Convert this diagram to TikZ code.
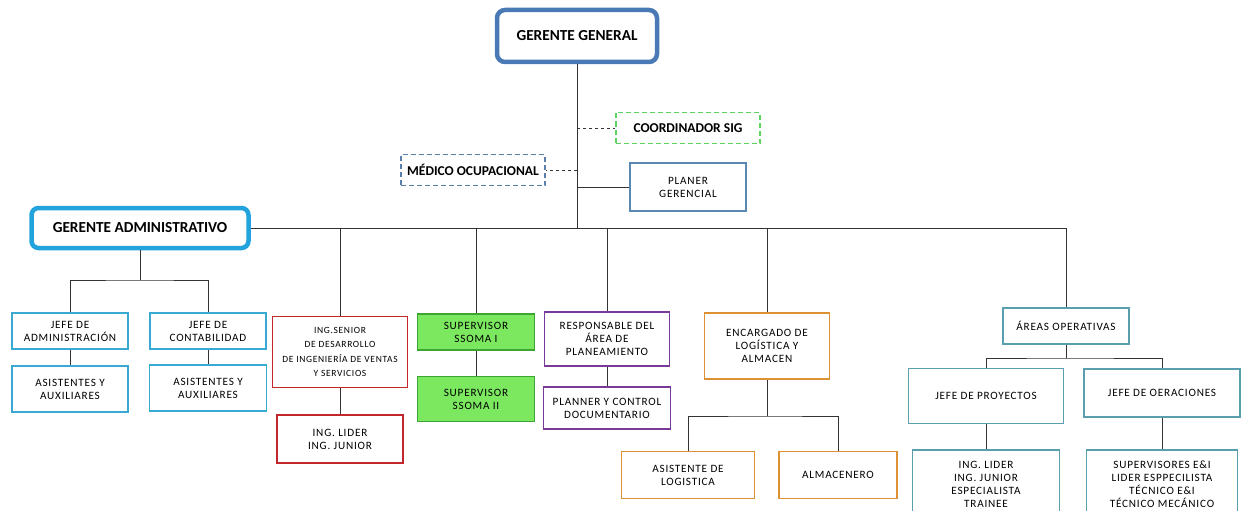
\documentclass[tikz,border=0pt]{standalone}
\usepackage{fontspec}
\setmainfont{Carlito}
\newfontfamily\boxfont[LetterSpace=7]{Carlito}
\usetikzlibrary{positioning}

\definecolor{ggblue}{HTML}{4A7AB5}
\definecolor{admcyan}{HTML}{22A3DC}
\definecolor{ltblue}{HTML}{3AAAD3}
\definecolor{tealbox}{HTML}{5A9FAE}
\definecolor{redbox}{HTML}{C4262E}
\definecolor{greenfill}{HTML}{7BE85F}
\definecolor{greendraw}{HTML}{3DA535}
\definecolor{purplebox}{HTML}{7A3A9A}
\definecolor{orangebox}{HTML}{DE9035}
\definecolor{dashgreen}{HTML}{5ED25E}
\definecolor{dashblue}{HTML}{5B7FA8}
\definecolor{steelbox}{HTML}{5A88B2}
\definecolor{linegray}{HTML}{333333}

\begin{document}
\begin{tikzpicture}[x=1pt, y=-1pt,
    box/.style={draw, line width=1.6pt, fill=white, align=center, inner sep=1pt,
      font=\boxfont\fontsize{11.2}{13}\selectfont},
    headbox/.style={draw, line width=4.5pt, rounded corners=8pt, fill=white, align=center,
      font=\bfseries\fontsize{15.3}{17}\selectfont},
    dashbox/.style={draw, dashed, line width=1.5pt, dash pattern=on 5pt off 3pt, fill=white,
      align=center, font=\bfseries\fontsize{13.5}{15}\selectfont},
    conn/.style={draw=linegray, line width=0.9pt}
    ]
    \useasboundingbox (0,0) rectangle (1243,511);
    \clip (0,0) rectangle (1243,511);
    \fill[white] (0,0) rectangle (1243,511);

    % top
    \node[headbox, draw=ggblue, minimum width=160pt, minimum height=52pt] (gg) at (577,36) {GERENTE GENERAL};
    \node[dashbox, draw=dashgreen, minimum width=144pt, minimum height=31pt] (coord) at (688,128) {COORDINADOR SIG};
    \node[dashbox, draw=dashblue, minimum width=144pt, minimum height=31pt] (medico) at (473,170) {MÉDICO OCUPACIONAL};
    \node[box, draw=steelbox, minimum width=116pt, minimum height=48pt] (planer) at (688,187) {PLANER\\GERENCIAL};

    % gerencia administrativa
    \node[headbox, draw=admcyan, rounded corners=7pt, minimum width=217pt, minimum height=40pt] (gadm) at (140,228) {GERENTE ADMINISTRATIVO};
    \node[box, draw=ltblue, minimum width=116pt, minimum height=36pt] (jadm) at (70,331) {JEFE DE\\ADMINISTRACIÓN};
    \node[box, draw=ltblue, minimum width=116pt, minimum height=46pt] (asis1) at (70,389) {ASISTENTES Y\\AUXILIARES};
    \node[box, draw=ltblue, minimum width=116pt, minimum height=36pt] (jcont) at (208,331) {JEFE DE\\CONTABILIDAD};
    \node[box, draw=ltblue, minimum width=117pt, minimum height=46pt] (asis2) at (208,388) {ASISTENTES Y\\AUXILIARES};
    \coordinate (admbus) at (140,280);

    % ramas centrales
    \node[box, draw=redbox, minimum width=135pt, minimum height=71pt, font=\boxfont\fontsize{9.5}{14.5}\selectfont] (ingsr) at (340,352) {ING.SENIOR\\DE DESARROLLO\\DE INGENIERÍA DE VENTAS\\Y SERVICIOS};
    \node[box, draw=redbox, minimum width=126pt, minimum height=48pt] (inglid) at (340,439) {ING. LIDER\\ING. JUNIOR};
    \node[box, draw=greendraw, fill=greenfill, minimum width=117pt, minimum height=36pt] (ss1) at (476,332) {SUPERVISOR\\SSOMA I};
    \node[box, draw=greendraw, fill=greenfill, minimum width=117pt, minimum height=45pt] (ss2) at (476,399) {SUPERVISOR\\SSOMA II};
    \node[box, draw=purplebox, minimum width=125pt, minimum height=54pt] (resp) at (607,339) {RESPONSABLE DEL\\ÁREA DE\\PLANEAMIENTO};
    \node[box, draw=purplebox, minimum width=127pt, minimum height=42pt] (plan) at (607,408) {PLANNER Y CONTROL\\DOCUMENTARIO};
    \node[box, draw=orangebox, minimum width=125pt, minimum height=66pt] (enc) at (767,346) {ENCARGADO DE\\LOGÍSTICA Y\\ALMACEN};
    \node[box, draw=orangebox, minimum width=133pt, minimum height=47pt] (asislog) at (688,475) {ASISTENTE DE\\LOGISTICA};
    \node[box, draw=orangebox, minimum width=118pt, minimum height=47pt] (almac) at (838,475) {ALMACENERO};
    \coordinate (logbus) at (767,416);

    % areas operativas
    \node[box, draw=tealbox, minimum width=126pt, minimum height=36pt] (areas) at (1066,326) {ÁREAS OPERATIVAS};
    \node[box, draw=tealbox, minimum width=155pt, minimum height=55pt] (jproy) at (986,396) {JEFE DE PROYECTOS};
    \node[box, draw=tealbox, minimum width=156pt, minimum height=48pt] (jop) at (1162,393) {JEFE DE OERACIONES};
    \node[box, draw=tealbox, minimum width=147pt, minimum height=68pt] (inglid2) at (986,484) {ING. LIDER\\ING. JUNIOR\\ESPECIALISTA\\TRAINEE};
    \node[box, draw=tealbox, minimum width=151pt, minimum height=68pt] (superv) at (1162,484) {SUPERVISORES E\&I\\LIDER ESPPECILISTA\\TÉCNICO E\&I\\TÉCNICO MECÁNICO};
    \coordinate (opbus) at (1066,358);

    % connectors
    \draw[conn] (gg.south) -- (gg.south |- gadm.east);
    \draw[conn, dashed] (gg.south |- coord.west) -- (coord.west);
    \draw[conn, dashed] (gg.south |- medico.east) -- (medico.east);
    \draw[conn] (gg.south |- planer.west) -- (planer.west);
    \draw[conn] (gadm.east) -- (gadm.east -| areas.north) -- (areas.north);
    \foreach \n in {ingsr, ss1, resp, enc}
      \draw[conn] (\n.north |- gadm.east) -- (\n.north);

    \draw[conn] (gadm.south) -- (admbus);
    \draw[conn] (jadm.north) |- (admbus) -| (jcont.north);
    \draw[conn] (enc.south) -- (logbus);
    \draw[conn] (asislog.north) |- (logbus) -| (almac.north);
    \draw[conn] (areas.south) -- (opbus);
    \draw[conn] (jproy.north) |- (opbus) -| (jop.north);

    \draw[conn] (jadm) -- (asis1);
    \draw[conn] (jcont) -- (asis2);
    \draw[conn] (ingsr) -- (inglid);
    \draw[conn] (ss1) -- (ss2);
    \draw[conn] (resp) -- (plan);
    \draw[conn] (jproy) -- (inglid2);
    \draw[conn] (jop) -- (superv);
\end{tikzpicture}
\end{document}
